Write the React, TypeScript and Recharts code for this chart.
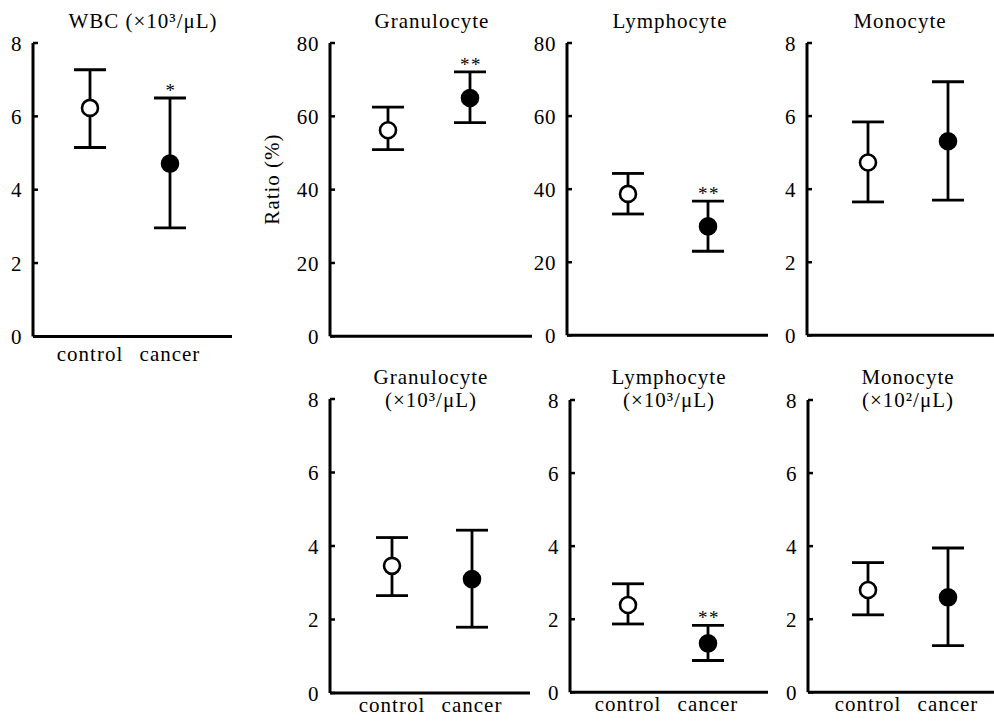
import React from "react"
import { ComposedChart, Scatter, XAxis, YAxis, ErrorBar } from "recharts"

const groups = ["control", "cancer"]
const ticks8 = [0, 2, 4, 6, 8]
const ticks80 = [0, 20, 40, 60, 80]

// [control, cancer]: mean, top of bar, bottom of bar, significance mark
const wbcMean = [6.23, 4.71]
const wbcHigh = [7.27, 6.5]
const wbcLow = [5.15, 2.96]
const wbcSig = ["", "*"]

const granPctMean = [56.2, 65.0]
const granPctHigh = [62.5, 72.1]
const granPctLow = [50.9, 58.3]
const granPctSig = ["", "**"]

const lymphPctMean = [38.7, 29.8]
const lymphPctHigh = [44.3, 36.7]
const lymphPctLow = [33.2, 23.0]
const lymphPctSig = ["", "**"]

const monoPctMean = [4.73, 5.31]
const monoPctHigh = [5.84, 6.94]
const monoPctLow = [3.65, 3.7]
const monoPctSig = ["", ""]

const granAbsMean = [3.46, 3.1]
const granAbsHigh = [4.23, 4.43]
const granAbsLow = [2.65, 1.79]
const granAbsSig = ["", ""]

const lymphAbsMean = [2.39, 1.34]
const lymphAbsHigh = [2.97, 1.83]
const lymphAbsLow = [1.87, 0.87]
const lymphAbsSig = ["", "**"]

const monoAbsMean = [2.8, 2.6]
const monoAbsHigh = [3.55, 3.95]
const monoAbsLow = [2.12, 1.28]
const monoAbsSig = ["", ""]

const FONT = "'Liberation Serif', 'Times New Roman', serif"

type PanelProps = {
  mean: number[]
  high: number[]
  low: number[]
  sig: string[]
  ticks: number[]
  ax: number
  top: number
  bottom: number
  right: number
  padL: number
  padR: number
  cats?: boolean
  catMargin?: number
  title: string[]
  titleX: number
  titleY: number
}

const YTick = (props: any) => {
  const { x, y, payload } = props
  return (
    <g>
      <line x1={x} x2={x + 5} y1={y} y2={y} stroke="#000" strokeWidth={2.5} />
      <text x={x - 11} y={y} dy="0.36em" textAnchor="end" fontSize={21} letterSpacing={0.6} fill="#000">
        {payload.value}
      </text>
    </g>
  )
}

const Dot = (props: any) => {
  const { cx, cy, payload } = props
  const open = payload.group === "control"
  return <circle cx={cx} cy={cy} r={8} fill={open ? "#fff" : "#000"} stroke="#000" strokeWidth={2.6} />
}

const Star = (props: any) => {
  const { cx, cy, payload } = props
  return (
    <text x={cx + 1} y={cy - 1} textAnchor="middle" fontSize={19} letterSpacing={1.5} fill="#000">
      {payload.sig}
    </text>
  )
}

const Panel = (p: PanelProps) => {
  const rows = groups.map((g, i) => ({
    group: g,
    y: p.mean[i],
    err: [p.mean[i] - p.low[i], p.high[i] - p.mean[i]],
  }))
  const marks = groups
    .map((g, i) => ({ group: g, y: p.high[i], sig: p.sig[i] }))
    .filter((d) => d.sig !== "")
  const yW = 60
  const mTop = 20
  const xH = 35
  const w = p.right - p.ax
  const h = p.bottom - p.top
  return (
    <>
      <div style={{ position: "absolute", left: p.ax - yW, top: p.top - mTop }}>
        <ComposedChart
          width={yW + w + 10}
          height={mTop + h + xH}
          margin={{ top: mTop, right: 10, bottom: 0, left: 0 }}
        >
          <XAxis
            dataKey="group"
            type="category"
            scale="point"
            allowDuplicatedCategory={false}
            padding={{ left: p.padL, right: p.padR }}
            axisLine={{ stroke: "#000", strokeWidth: 3 }}
            tickLine={false}
            tickSize={0}
            tickMargin={p.catMargin ?? 8}
            height={xH}
            tick={p.cats ? { fill: "#000", fontSize: 21, letterSpacing: 1.0 } : false}
          />
          <YAxis
            type="number"
            domain={[0, p.ticks[p.ticks.length - 1]]}
            ticks={p.ticks}
            allowDataOverflow
            width={yW}
            axisLine={{ stroke: "#000", strokeWidth: 3 }}
            tickLine={false}
            tickSize={0}
            tickMargin={0}
            tick={<YTick />}
          />
          <Scatter data={rows} dataKey="y" shape={<Dot />} isAnimationActive={false}>
            <ErrorBar dataKey="err" direction="y" width={16} strokeWidth={2.8} stroke="#000" />
          </Scatter>
          <Scatter data={marks} dataKey="y" shape={<Star />} isAnimationActive={false} />
        </ComposedChart>
      </div>
      <div
        style={{
          position: "absolute",
          left: p.titleX - 110,
          top: p.titleY,
          width: 220,
          textAlign: "center",
          fontSize: 21,
          lineHeight: "23px",
          letterSpacing: 1.0,
          whiteSpace: "nowrap",
        }}
      >
        {p.title.map((t) => (
          <div key={t}>{t}</div>
        ))}
      </div>
    </>
  )
}

export default function App() {
  return (
    <div
      style={{
        position: "absolute",
        left: 0,
        top: 0,
        width: 994,
        height: 724,
        overflow: "hidden",
        background: "#fff",
        fontFamily: FONT,
        color: "#000",
      }}
    >
      <Panel
        mean={wbcMean} high={wbcHigh} low={wbcLow} sig={wbcSig} ticks={ticks8}
        ax={33} top={43.3} bottom={336.7} right={232} padL={57} padR={62}
        cats catMargin={10}
        title={["WBC (×10³/μL)"]} titleX={143} titleY={10}
      />
      <Panel
        mean={granPctMean} high={granPctHigh} low={granPctLow} sig={granPctSig} ticks={ticks80}
        ax={330} top={42.7} bottom={336} right={532} padL={58} padR={62}
        title={["Granulocyte"]} titleX={432} titleY={10}
      />
      <Panel
        mean={lymphPctMean} high={lymphPctHigh} low={lymphPctLow} sig={lymphPctSig} ticks={ticks80}
        ax={567} top={42.7} bottom={335} right={768} padL={61} padR={60}
        title={["Lymphocyte"]} titleX={670} titleY={10}
      />
      <Panel
        mean={monoPctMean} high={monoPctHigh} low={monoPctLow} sig={monoPctSig} ticks={ticks8}
        ax={807} top={42.7} bottom={335} right={994} padL={61} padR={46}
        title={["Monocyte"]} titleX={900} titleY={10}
      />
      <Panel
        mean={granAbsMean} high={granAbsHigh} low={granAbsLow} sig={granAbsSig} ticks={ticks8}
        ax={330} top={399.3} bottom={693.3} right={530} padL={62} padR={58}
        cats catMargin={4}
        title={["Granulocyte", "(×10³/μL)"]} titleX={431} titleY={366}
      />
      <Panel
        mean={lymphAbsMean} high={lymphAbsHigh} low={lymphAbsLow} sig={lymphAbsSig} ticks={ticks8}
        ax={570} top={400} bottom={692.3} right={768} padL={58} padR={60}
        cats catMargin={4}
        title={["Lymphocyte", "(×10³/μL)"]} titleX={669} titleY={366}
      />
      <Panel
        mean={monoAbsMean} high={monoAbsHigh} low={monoAbsLow} sig={monoAbsSig} ticks={ticks8}
        ax={808} top={400} bottom={692.3} right={994} padL={60} padR={46}
        cats catMargin={4}
        title={["Monocyte", "(×10²/μL)"]} titleX={908} titleY={366}
      />
      <div
        style={{
          position: "absolute",
          left: 272 - 60,
          top: 179 - 12,
          width: 120,
          height: 24,
          lineHeight: "24px",
          textAlign: "center",
          fontSize: 21,
          letterSpacing: 1.0,
          transform: "rotate(-90deg)",
        }}
      >
        Ratio (%)
      </div>
    </div>
  )
}
